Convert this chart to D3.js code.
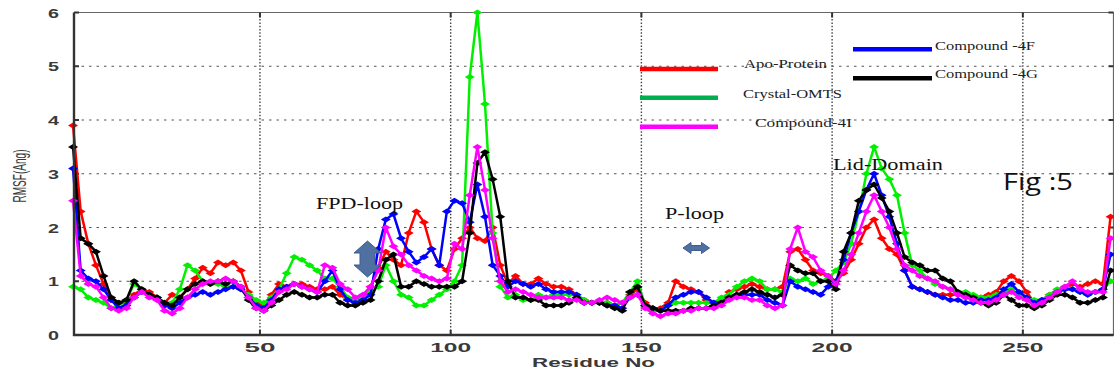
<!DOCTYPE html>
<html>
<head>
<meta charset="utf-8">
<script src="https://cdn.jsdelivr.net/npm/d3@7"></script>
<style>
  html, body { margin: 0; padding: 0; background: #fff; }
  svg { display: block; }
</style>
</head>
<body>
<div id="chart"></div>
<script>
// residue numbers (every second residue)
const residues = d3.range(1, 274, 2);

const apoProtein = [
  3.9, 2.3, 1.7, 1.3, 0.95, 0.65, 0.6, 0.6, 0.75, 0.85,
  0.8, 0.7, 0.6, 0.75, 0.7, 0.85, 1.05, 1.25, 1.15, 1.35,
  1.3, 1.35, 1.2, 0.8, 0.6, 0.55, 0.75, 0.95, 0.9, 0.95,
  0.95, 0.9, 0.85, 0.85, 0.9, 0.75, 0.65, 0.65, 0.7, 0.9,
  1.25, 1.55, 1.4, 1.3, 1.9, 2.3, 2.1, 1.6, 1.3, 1.2,
  1.6, 1.8, 2.0, 1.8, 1.75, 2.0, 1.3, 0.95, 1.1, 0.95,
  0.95, 1.05, 0.95, 0.9, 0.9, 0.85, 0.75, 0.65, 0.6, 0.6,
  0.6, 0.55, 0.6, 0.75, 0.85, 0.6, 0.5, 0.5, 0.6, 1.0,
  0.9, 0.85, 0.8, 0.65, 0.6, 0.65, 0.8, 0.85, 0.9, 0.95,
  0.9, 0.85, 0.85, 0.9, 1.55, 1.6, 1.4, 1.2, 1.15, 1.1,
  1.0, 1.15, 1.4, 1.7, 2.0, 2.15, 1.8, 1.6, 1.5, 1.2,
  0.9, 0.85, 0.8, 0.75, 0.75, 0.75, 0.75, 0.75, 0.7, 0.7,
  0.75, 0.8, 1.0, 1.1, 1.0, 0.8, 0.6, 0.65, 0.75, 0.8,
  0.85, 0.95, 0.9, 0.95, 1.0, 0.95, 2.2
];

const crystalOMTS = [
  0.9, 0.85, 0.7, 0.65, 0.6, 0.5, 0.55, 0.65, 0.95, 0.85,
  0.75, 0.7, 0.6, 0.6, 0.85, 1.3, 1.2, 1.0, 0.95, 0.95,
  0.9, 0.9, 0.85, 0.75, 0.65, 0.6, 0.7, 0.85, 1.15, 1.45,
  1.4, 1.3, 1.2, 1.05, 1.05, 0.9, 0.7, 0.65, 0.7, 0.8,
  0.9, 1.3, 1.0, 0.75, 0.7, 0.55, 0.55, 0.65, 0.75, 0.85,
  1.0, 1.3, 4.8, 6.0, 4.3, 1.9, 0.9, 0.7, 0.75, 0.65,
  0.65, 0.75, 0.7, 0.75, 0.75, 0.75, 0.75, 0.65, 0.6, 0.6,
  0.6, 0.55, 0.6, 0.8, 1.0, 0.55, 0.45, 0.45, 0.55, 0.6,
  0.6, 0.6, 0.6, 0.6, 0.6, 0.7, 0.75, 0.9, 1.0, 1.05,
  1.0, 0.85, 0.85, 0.8, 1.05, 1.0, 1.05, 0.95, 1.0, 1.05,
  1.2, 1.35, 1.7, 2.3, 3.0, 3.5, 3.1, 2.9, 2.6, 1.9,
  1.3, 1.2, 1.05, 0.95, 0.9, 0.85, 0.8, 0.8, 0.75, 0.7,
  0.7, 0.75, 0.8, 0.85, 0.75, 0.7, 0.65, 0.65, 0.75, 0.85,
  0.9, 0.85, 0.8, 0.75, 0.8, 0.85, 1.0
];

const compound4F = [
  3.1, 1.2, 1.05, 1.0, 0.85, 0.65, 0.5, 0.55, 0.7, 0.8,
  0.75, 0.7, 0.55, 0.5, 0.6, 0.7, 0.75, 0.8, 0.75, 0.8,
  0.85, 0.9, 0.85, 0.7, 0.55, 0.5, 0.65, 0.85, 0.9, 0.95,
  0.9, 0.85, 0.8, 1.0, 1.2, 0.85, 0.65, 0.6, 0.65, 0.75,
  1.6, 2.15, 2.25, 1.8, 1.55, 1.35, 1.45, 1.6, 1.3, 2.3,
  2.5, 2.45, 2.1, 2.8, 2.2, 1.3, 1.1, 0.9, 1.0, 0.95,
  0.9, 0.95, 0.85, 0.8, 0.8, 0.8, 0.75, 0.6, 0.6, 0.6,
  0.55, 0.55, 0.5, 0.7, 0.75, 0.55, 0.5, 0.45, 0.55, 0.7,
  0.75, 0.8, 0.8, 0.7, 0.6, 0.6, 0.7, 0.75, 0.75, 0.75,
  0.75, 0.65, 0.6, 0.55, 1.0, 0.9, 0.85, 0.8, 0.75, 0.9,
  1.0, 1.4, 1.9, 2.3, 2.7, 3.0, 2.6, 2.2, 1.7, 1.2,
  0.9, 0.85, 0.8, 0.75, 0.7, 0.65, 0.65, 0.6, 0.6, 0.65,
  0.65, 0.7, 0.85, 0.95, 0.8, 0.7, 0.6, 0.65, 0.7, 0.8,
  0.85, 0.85, 0.8, 0.75, 0.8, 0.85, 1.5
];

const compound4G = [
  3.5, 1.8, 1.7, 1.55, 1.1, 0.7, 0.6, 0.65, 1.0, 0.85,
  0.75, 0.7, 0.6, 0.55, 0.7, 0.85, 0.95, 1.0, 0.95, 1.0,
  0.95, 1.0, 0.9, 0.65, 0.5, 0.45, 0.55, 0.65, 0.75, 0.8,
  0.75, 0.7, 0.7, 0.75, 0.75, 0.6, 0.55, 0.55, 0.6, 0.65,
  1.0, 1.4, 1.5, 0.9, 0.9, 1.0, 0.95, 0.9, 0.9, 0.9,
  0.9, 1.0, 1.9, 3.2, 3.4, 2.9, 2.2, 1.0, 0.7, 0.7,
  0.65, 0.65, 0.55, 0.55, 0.55, 0.6, 0.7, 0.6, 0.6, 0.6,
  0.55, 0.5, 0.45, 0.8, 0.9, 0.55, 0.5, 0.45, 0.45, 0.45,
  0.45, 0.5, 0.5, 0.5, 0.55, 0.6, 0.7, 0.75, 0.8, 0.85,
  0.8, 0.75, 0.7, 0.75, 1.3, 1.2, 1.15, 1.15, 1.0, 1.0,
  0.85, 1.55, 1.9, 2.5, 2.7, 2.8, 2.55, 2.3, 1.9, 1.45,
  1.35, 1.3, 1.2, 1.2, 1.05, 1.0, 0.8, 0.75, 0.7, 0.6,
  0.55, 0.6, 0.75, 0.65, 0.55, 0.55, 0.5, 0.55, 0.65, 0.75,
  0.75, 0.7, 0.6, 0.6, 0.65, 0.7, 1.2
];

const compound4I = [
  2.5, 1.1, 0.95, 0.9, 0.7, 0.5, 0.45, 0.5, 0.7, 0.8,
  0.7, 0.65, 0.45, 0.4, 0.5, 0.7, 0.85, 0.95, 1.0, 1.0,
  1.05, 1.0, 0.9, 0.7, 0.5, 0.45, 0.6, 0.8, 0.85, 0.95,
  0.9, 0.85, 0.8, 1.3, 1.25, 0.95, 0.85, 0.7, 0.75, 0.9,
  1.2, 2.0, 1.65, 1.5, 1.3, 1.2, 1.1, 1.05, 1.0, 1.05,
  1.7, 1.6, 2.6, 3.5, 2.7, 1.8, 1.0, 0.8, 0.85, 0.8,
  0.75, 0.7, 0.7, 0.7, 0.7, 0.65, 0.65, 0.6, 0.6, 0.65,
  0.7, 0.65, 0.6, 0.7, 0.75, 0.5, 0.4, 0.35, 0.4, 0.4,
  0.45, 0.45, 0.5, 0.5, 0.5, 0.55, 0.65, 0.7, 0.7, 0.65,
  0.65, 0.55, 0.5, 0.55, 1.6, 2.0, 1.55, 1.45, 1.2, 1.1,
  0.95, 1.2, 1.5, 1.9, 2.3, 2.6, 2.3, 2.0, 1.6, 1.3,
  1.2, 1.1, 1.05, 1.0, 0.9, 0.85, 0.75, 0.7, 0.65, 0.6,
  0.6, 0.65, 0.75, 0.8, 0.7, 0.65, 0.55, 0.6, 0.7, 0.8,
  0.9, 1.0, 0.85, 0.8, 0.8, 0.8, 1.8
];

const seriesNames = ['Apo-Protein', 'Crystal-OMTS', 'Compound -4F', 'Compound -4G', 'Compound-4I'];
const yTickValues = [0, 1, 2, 3, 4, 5, 6];
const xTickValues = [50, 100, 150, 200, 250];

const series = [
  { name: seriesNames[0], values: apoProtein,  color: '#ff0000' },
  { name: seriesNames[1], values: crystalOMTS, color: '#00f000' },
  { name: seriesNames[2], values: compound4F,  color: '#0000ff' },
  { name: seriesNames[3], values: compound4G,  color: '#000000' },
  { name: seriesNames[4], values: compound4I,  color: '#ff00ff' }
];
series.forEach(s => { if (s.values.length !== residues.length) throw new Error(s.name + ' length ' + s.values.length); });

const width = 1114, height = 372;
const x = d3.scaleLinear().domain([1.25, 273.9]).range([74, 1114]);
const y = d3.scaleLinear().domain([0, 6]).range([335, 12.5]);
const plotLeft = x.range()[0], plotRight = 1113.5, plotTop = y(6), plotBottom = y(0);

const svg = d3.select('#chart').append('svg')
    .attr('width', width)
    .attr('height', height);

// grid
svg.append('g')
  .selectAll('line')
  .data(yTickValues.filter(d => d > 0 && d < 6))
  .join('line')
    .attr('x1', plotLeft).attr('x2', plotRight)
    .attr('y1', d => y(d)).attr('y2', d => y(d))
    .attr('stroke', '#555').attr('stroke-width', 1)
    .attr('stroke-dasharray', '2.5,5');

svg.append('g')
  .selectAll('line')
  .data(xTickValues)
  .join('line')
    .attr('x1', d => x(d)).attr('x2', d => x(d))
    .attr('y1', plotTop).attr('y2', plotBottom)
    .attr('stroke', '#444').attr('stroke-width', 1.4)
    .attr('stroke-dasharray', '1.5,1.8');

// frame
svg.append('line').attr('x1', plotLeft).attr('x2', plotRight).attr('y1', plotTop).attr('y2', plotTop)
    .attr('stroke', '#666').attr('stroke-width', 1.2);
svg.append('line').attr('x1', plotRight).attr('x2', plotRight).attr('y1', plotTop).attr('y2', plotBottom)
    .attr('stroke', '#666').attr('stroke-width', 1.2);

// ticks on all sides, pointing in
const ticks = svg.append('g').attr('stroke', '#333').attr('stroke-width', 2);
xTickValues.forEach(d => {
  ticks.append('line').attr('x1', x(d)).attr('x2', x(d)).attr('y1', plotBottom).attr('y2', plotBottom - 5);
  ticks.append('line').attr('x1', x(d)).attr('x2', x(d)).attr('y1', plotTop).attr('y2', plotTop + 5);
});
yTickValues.forEach(d => {
  ticks.append('line').attr('x1', plotLeft).attr('x2', plotLeft + 5).attr('y1', y(d)).attr('y2', y(d));
  ticks.append('line').attr('x1', plotRight).attr('x2', plotRight - 5).attr('y1', y(d)).attr('y2', y(d));
});

// series lines and markers
const line = d3.line()
    .x((d, i) => x(residues[i]))
    .y(d => y(d));
const marker = 'M-5,0L0,-3L5,0L0,3Z';

series.forEach(s => {
  const g = svg.append('g');
  g.append('path')
      .datum(s.values)
      .attr('fill', 'none')
      .attr('stroke', s.color)
      .attr('stroke-width', 2.5)
      .attr('stroke-linejoin', 'round')
      .attr('d', line);
  g.selectAll('path.m')
    .data(s.values)
    .join('path')
      .attr('class', 'm')
      .attr('d', marker)
      .attr('fill', s.color)
      .attr('transform', (d, i) => `translate(${x(residues[i])},${y(d)})`);
});

// axes lines (drawn over the data)
svg.append('line').attr('x1', plotLeft).attr('x2', plotLeft).attr('y1', plotTop).attr('y2', plotBottom + 1)
    .attr('stroke', '#333').attr('stroke-width', 2.4);
svg.append('line').attr('x1', plotLeft - 1).attr('x2', plotRight).attr('y1', plotBottom).attr('y2', plotBottom)
    .attr('stroke', '#333').attr('stroke-width', 2.4);

// tick labels
svg.append('g')
  .selectAll('text')
  .data(yTickValues)
  .join('text')
    .attr('x', 53.5)
    .attr('y', d => y(d) + 5)
    .attr('text-anchor', 'middle')
    .attr('font-family', 'Liberation Sans, Arial, sans-serif')
    .attr('font-weight', 'bold')
    .attr('font-size', 13.5)
    .attr('fill', '#3a3a3a')
    .attr('textLength', 11)
    .attr('lengthAdjust', 'spacingAndGlyphs')
    .text(d => d);

svg.append('g')
  .selectAll('text')
  .data(xTickValues)
  .join('text')
    .attr('x', d => x(d))
    .attr('y', 351.5)
    .attr('text-anchor', 'middle')
    .attr('font-family', 'Liberation Sans, Arial, sans-serif')
    .attr('font-weight', 'bold')
    .attr('font-size', 13.5)
    .attr('fill', '#3a3a3a')
    .attr('textLength', d => String(d).length === 2 ? 31 : 41)
    .attr('lengthAdjust', 'spacingAndGlyphs')
    .text(d => d);

// axis titles
svg.append('text')
    .attr('x', 593.5).attr('y', 366.5)
    .attr('text-anchor', 'middle')
    .attr('font-family', 'Liberation Sans, Arial, sans-serif')
    .attr('font-weight', 'bold')
    .attr('font-size', 12.5)
    .attr('fill', '#3a3a3a')
    .attr('textLength', 123)
    .attr('lengthAdjust', 'spacingAndGlyphs')
    .text('Residue No');

svg.append('text')
    .attr('transform', 'translate(26,176) scale(1.7,1) rotate(-90)')
    .attr('text-anchor', 'middle')
    .attr('font-family', 'Liberation Sans, Arial, sans-serif')
    .attr('font-size', 11)
    .attr('fill', '#3a3a3a')
    .attr('textLength', 53)
    .attr('lengthAdjust', 'spacingAndGlyphs')
    .text('RMSF(Ang)');

// legend (free-floating lines + serif labels)
const legendItems = [
  { name: seriesNames[0], color: '#ff0000', x1: 640, x2: 718, ly: 69,    tx: 744, ty: 68,    tw: 83 },
  { name: seriesNames[1], color: '#00b050', x1: 640, x2: 718, ly: 97.7,  tx: 743, ty: 97.5,  tw: 99 },
  { name: seriesNames[4], color: '#ff00ff', x1: 640, x2: 718, ly: 126.7, tx: 755, ty: 126.5, tw: 97 },
  { name: seriesNames[2], color: '#0000ff', x1: 853, x2: 932, ly: 49.3,  tx: 935, ty: 49.5,  tw: 100 },
  { name: seriesNames[3], color: '#000000', x1: 853, x2: 932, ly: 78.3,  tx: 935, ty: 78,    tw: 103 }
];
const legend = svg.append('g');
legend.selectAll('line')
  .data(legendItems)
  .join('line')
    .attr('x1', d => d.x1).attr('x2', d => d.x2)
    .attr('y1', d => d.ly).attr('y2', d => d.ly)
    .attr('stroke', d => d.color)
    .attr('stroke-width', 4.5);
legend.selectAll('text')
  .data(legendItems)
  .join('text')
    .attr('x', d => d.tx).attr('y', d => d.ty)
    .attr('font-family', 'Liberation Serif, Times New Roman, serif')
    .attr('font-size', 13)
    .attr('fill', '#222')
    .attr('textLength', d => d.tw)
    .attr('lengthAdjust', 'spacingAndGlyphs')
    .text(d => d.name);

// annotations
const notes = [
  { text: 'FPD-loop',   x: 316, y: 208.5, w: 87,  size: 17 },
  { text: 'P-loop',     x: 665, y: 218.5, w: 59,  size: 17 },
  { text: 'Lid-Domain', x: 833, y: 169.5, w: 110, size: 17 }
];
svg.append('g')
  .selectAll('text')
  .data(notes)
  .join('text')
    .attr('x', d => d.x).attr('y', d => d.y)
    .attr('font-family', 'Liberation Serif, Times New Roman, serif')
    .attr('font-size', d => d.size)
    .attr('fill', '#111')
    .attr('textLength', d => d.w)
    .attr('lengthAdjust', 'spacingAndGlyphs')
    .text(d => d.text);

svg.append('text')
    .attr('x', 1003).attr('y', 190)
    .attr('font-family', 'Open Sans, Noto Sans, sans-serif')
    .attr('font-size', 23)
    .attr('fill', '#111')
    .attr('textLength', 70)
    .attr('lengthAdjust', 'spacingAndGlyphs')
    .text('Fig :5');

// double arrows
function vArrow(cx, ty, by, w, sw, hh) {
  return `M${cx},${ty}L${cx + w / 2},${ty + hh}L${cx + sw / 2},${ty + hh}L${cx + sw / 2},${by - hh}` +
         `L${cx + w / 2},${by - hh}L${cx},${by}L${cx - w / 2},${by - hh}L${cx - sw / 2},${by - hh}` +
         `L${cx - sw / 2},${ty + hh}L${cx - w / 2},${ty + hh}Z`;
}
function hArrow(cy, lx, rx, h, sh, hw) {
  return `M${lx},${cy}L${lx + hw},${cy - h / 2}L${lx + hw},${cy - sh / 2}L${rx - hw},${cy - sh / 2}` +
         `L${rx - hw},${cy - h / 2}L${rx},${cy}L${rx - hw},${cy + h / 2}L${rx - hw},${cy + sh / 2}` +
         `L${lx + hw},${cy + sh / 2}L${lx + hw},${cy + h / 2}Z`;
}
svg.append('path')
    .attr('d', vArrow(367.5, 241, 277, 27, 15, 12))
    .attr('fill', '#4f70a0').attr('stroke', '#3d5d8c').attr('stroke-width', 1);
svg.append('path')
    .attr('d', hArrow(248, 683, 709.5, 11, 5, 8))
    .attr('fill', '#4f70a0').attr('stroke', '#3d5d8c').attr('stroke-width', 1);
</script>
</body>
</html>
